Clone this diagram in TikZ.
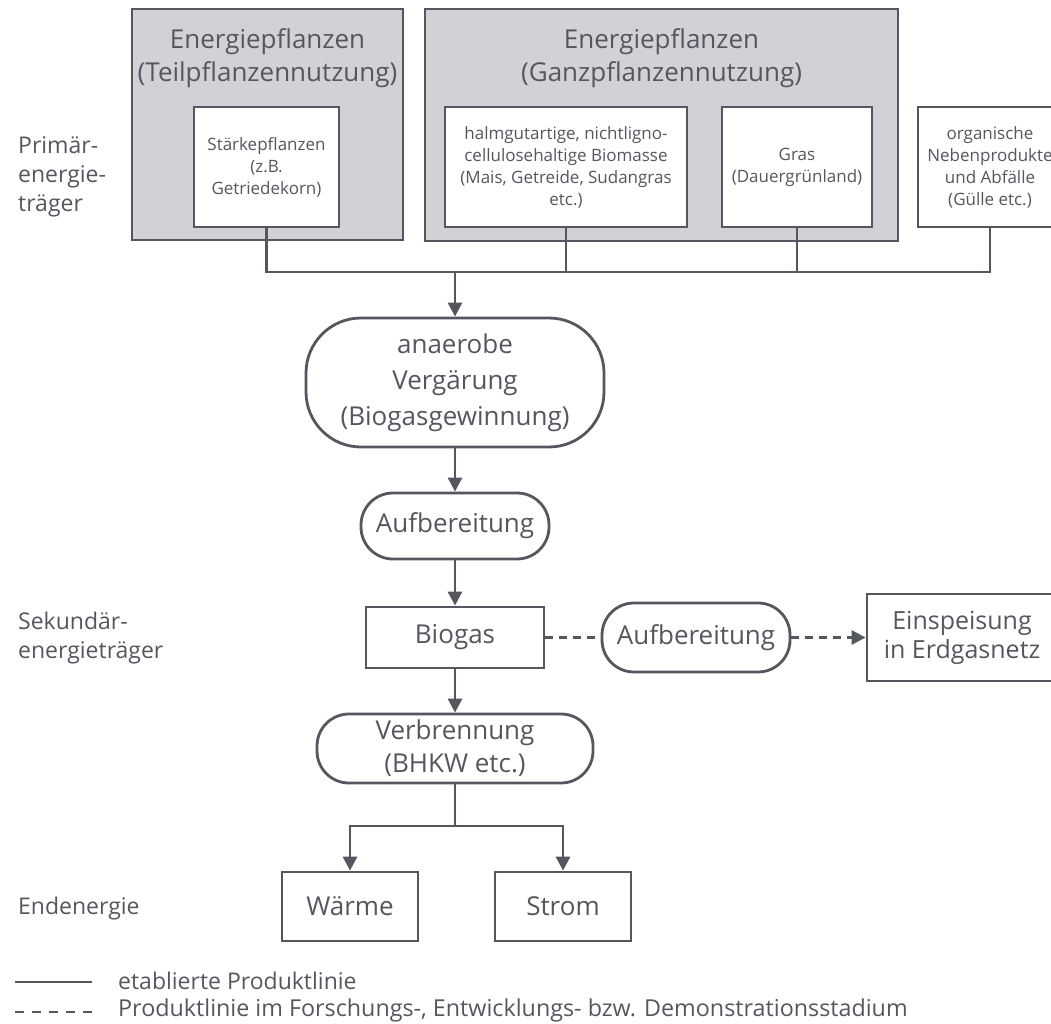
\documentclass[tikz,border=0pt]{standalone}
\usepackage{fontspec}
\setmainfont{Open Sans}
\usetikzlibrary{arrows.meta}
\definecolor{inkGray}{HTML}{55575F}
\definecolor{boxGray}{HTML}{D2D1D5}

\begin{document}
\begin{tikzpicture}
[x=1pt, y=-1pt,
  lineDecorate/.style={draw=inkGray, line width=2.8pt},
  arrowDecorate/.style={lineDecorate, -{Triangle[width=14pt,length=14pt]}},
  dashDecorate/.style={lineDecorate, dash pattern=on 8pt off 6pt},
  groupDecorate/.style={lineDecorate, fill=boxGray, shape=rectangle, inner sep=0pt},
  boxDecorate/.style={lineDecorate, fill=white, shape=rectangle, inner sep=0pt,
    text=inkGray, align=center},
  smallText/.style={font=\fontsize{17}{22}\selectfont},
  bigText/.style={font=\fontsize{26}{33}\selectfont},
  procDecorate/.style={boxDecorate, bigText, rounded corners=32pt},
  headDecorate/.style={text=inkGray, align=center, inner sep=0pt, bigText},
  labelDecorate/.style={text=inkGray, align=left, anchor=west, inner sep=0pt,
    font=\fontsize{23}{29}\selectfont}]
\useasboundingbox (0,0) rectangle (1051,1024);
%% group boxes
\foreach \nodename/\x/\y/\w/\h in {
  teil/267.5/124.5/271/231, ganz/661.5/125/473/232}
{
  \node[groupDecorate, minimum width=\w, minimum height=\h] (\nodename) at (\x,\y) {};
}
\node[headDecorate] (teilHead) at (267.5,58) {Energiepflanzen\\(Teilpflanzennutzung)};
\node[headDecorate] (ganzHead) at (661.5,58) {Energiepflanzen\\(Ganzpflanzennutzung)};
%% primary sources
\foreach \nodename/\x/\w/\txt in {
  staerke/266.5/145/{St\"arkepflanzen\\(z.B.\\Getriedekorn)},
  halm/566/242/{halmgutartige, nichtligno-\\cellulosehaltige Biomasse\\(Mais, Getreide, Sudangras\\etc.)},
  gras/797/150/{Gras\\(Dauergr\"unland)},
  organic/990/144/{organische\\Nebenprodukte\\und Abf\"alle\\(G\"ulle etc.)}}
{
  \node[boxDecorate, smallText, minimum width=\w, minimum height=120] (\nodename) at (\x,167) {\txt};
}
%% processes and products
\node[procDecorate, minimum width=298, minimum height=129, rounded corners=55pt,
  font=\fontsize{26}{36}\selectfont] (anaerobe) at (455,382.5) {anaerobe\\Verg\"arung\\(Biogasgewinnung)};
\node[procDecorate, minimum width=188, minimum height=66] (aufbA) at (455,526) {Aufbereitung};
\node[boxDecorate, bigText, minimum width=178, minimum height=61] (biogas) at (455,637.5) {Biogas};
\node[procDecorate, minimum width=188, minimum height=69] (aufbB) at (696,637.5) {Aufbereitung};
\node[boxDecorate, font=\fontsize{25}{29}\selectfont, minimum width=190, minimum height=87]
  (feed) at (962,637.5) {Einspeisung\\in Erdgasnetz};
\node[procDecorate, minimum width=276, minimum height=69] (burn) at (455,748.5) {Verbrennung\\(BHKW etc.)};
\node[boxDecorate, bigText, minimum width=136, minimum height=69] (heat) at (350,906.5) {W\"arme};
\node[boxDecorate, bigText, minimum width=136, minimum height=69] (power) at (563,906.5) {Strom};
%% level labels
\node[labelDecorate] (primLabel) at (18,177) {Prim\"ar-\\energie-\\tr\"ager};
\node[labelDecorate] (sekLabel) at (18,638) {Sekund\"ar-\\energietr\"ager};
\node[labelDecorate] (endLabel) at (18,909) {Endenergie};
%% edges or lines
\coordinate (bus) at (455,272);
\coordinate (split) at (455,826);
\draw[lineDecorate] (staerke.south) -- (staerke.south |- bus) -- (organic.south |- bus) -- (organic.south);
\path
\foreach \startnode in {halm, gras}
{
  (\startnode.south) edge[lineDecorate] (\startnode.south |- bus)
};
\path
\foreach \startnode/\endnode in {
  bus/anaerobe, anaerobe/aufbA, aufbA/biogas, biogas/burn}
{
  (\startnode) edge[arrowDecorate] (\endnode)
};
\draw[lineDecorate] (burn) -- (split);
\draw[arrowDecorate] (split) -| (heat);
\draw[arrowDecorate] (split) -| (power);
\draw[dashDecorate] (biogas) -- (aufbB);
\draw[dashDecorate, -{Triangle[width=14pt,length=14pt]}] (aufbB) -- (feed);
%% legend
\coordinate (solidA) at (15,982);
\coordinate (solidB) at (92,982);
\coordinate (dashA) at (15,1012);
\coordinate (dashB) at (92,1012);
\draw[lineDecorate] (solidA) -- (solidB);
\draw[lineDecorate, dash pattern=on 9pt off 8pt] (dashA) -- (dashB);
\node[labelDecorate] (legSolid) at (118,981) {etablierte Produktlinie};
\node[labelDecorate, font=\fontsize{23.3}{29}\selectfont] (legDash) at (118,1010) {Produktlinie im Forschungs-, Entwicklungs- bzw. Demonstrationsstadium};
\end{tikzpicture}
\end{document}
